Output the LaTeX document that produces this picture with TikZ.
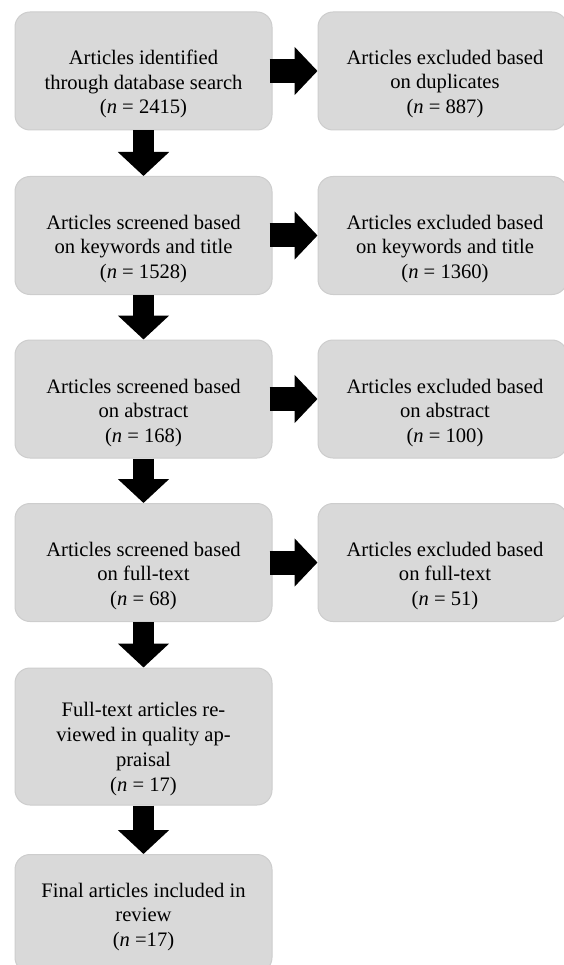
\documentclass[tikz,border=0pt]{standalone}
\usepackage{fontspec}
\setmainfont{Liberation Serif}
\usetikzlibrary{arrows.meta,calc}
\definecolor{boxfill}{HTML}{D9D9D9}
\definecolor{boxline}{HTML}{CDCDCD}
\begin{document}
\begin{tikzpicture}[x=1pt,y=-1pt,
  box/.style={draw=boxline, fill=boxfill, line width=1pt, rounded corners=15pt, inner sep=0pt},
  lbox/.style={box, minimum width=257pt, minimum height=118pt},
  rbox/.style={box, minimum width=249pt, minimum height=118pt},
  txt/.style={align=center, font=\fontsize{20.6}{24.8}\selectfont, inner sep=0pt},
  downarrow/.style={line width=21pt, -{Triangle[width=50pt,length=24pt]}},
  rightarrow/.style={line width=24pt, -{Triangle[width=47pt,length=23pt]}}]
\useasboundingbox (0,0) rectangle (563,965);
% left boxes
\node[lbox] (b1) at (143.5,71) {};
\node[lbox] (b2) at (143.5,235.5) {};
\node[lbox] (b3) at (143.5,399) {};
\node[lbox] (b4) at (143.5,562.5) {};
\node[lbox, minimum height=137pt] (b5) at (143.5,736.5) {};
\node[lbox] (b6) at (143.5,913.5) {};
% right boxes
\node[rbox] (r1) at (442.5,71) {};
\node[rbox] (r2) at (442.5,235.5) {};
\node[rbox] (r3) at (442.5,399) {};
\node[rbox] (r4) at (442.5,562.5) {};
% texts
\node[txt] (t1) at (143.5,84) {Articles identified\\through database search\\(\textit{n} = 2415)};
\node[txt] (t2) at (143.5,249) {Articles screened based\\on keywords and title\\(\textit{n} = 1528)};
\node[txt] (t3) at (143.5,413) {Articles screened based\\on abstract\\(\textit{n} = 168)};
\node[txt] (t4) at (143.5,576) {Articles screened based\\on full-text\\(\textit{n} = 68)};
\node[txt] (t5) at (143.5,749) {Full-text articles re-\\viewed in quality ap-\\praisal\\(\textit{n} = 17)};
\node[txt] (t6) at (143.5,917) {Final articles included in\\review\\(\textit{n} =17)};
\node[txt] (s1) at (445,84) {Articles excluded based\\on duplicates\\(\textit{n} = 887)};
\node[txt] (s2) at (445,249) {Articles excluded based\\on keywords and title\\(\textit{n} = 1360)};
\node[txt] (s3) at (445,413) {Articles excluded based\\on abstract\\(\textit{n} = 100)};
\node[txt] (s4) at (445,576) {Articles excluded based\\on full-text\\(\textit{n} = 51)};
% down arrows
\draw[downarrow] (b1.south) -- (b2.north);
\draw[downarrow] (b2.south) -- (b3.north);
\draw[downarrow] (b3.south) -- (b4.north);
\draw[downarrow] (b4.south) -- (b5.north);
\draw[downarrow] (b5.south) -- (b6.north);
% right arrows
\draw[rightarrow] ([xshift=-3pt]b1.east) -- (r1.west);
\draw[rightarrow] ([xshift=-3pt]b2.east) -- (r2.west);
\draw[rightarrow] ([xshift=-3pt]b3.east) -- (r3.west);
\draw[rightarrow] ([xshift=-3pt]b4.east) -- (r4.west);
\end{tikzpicture}
\end{document}
